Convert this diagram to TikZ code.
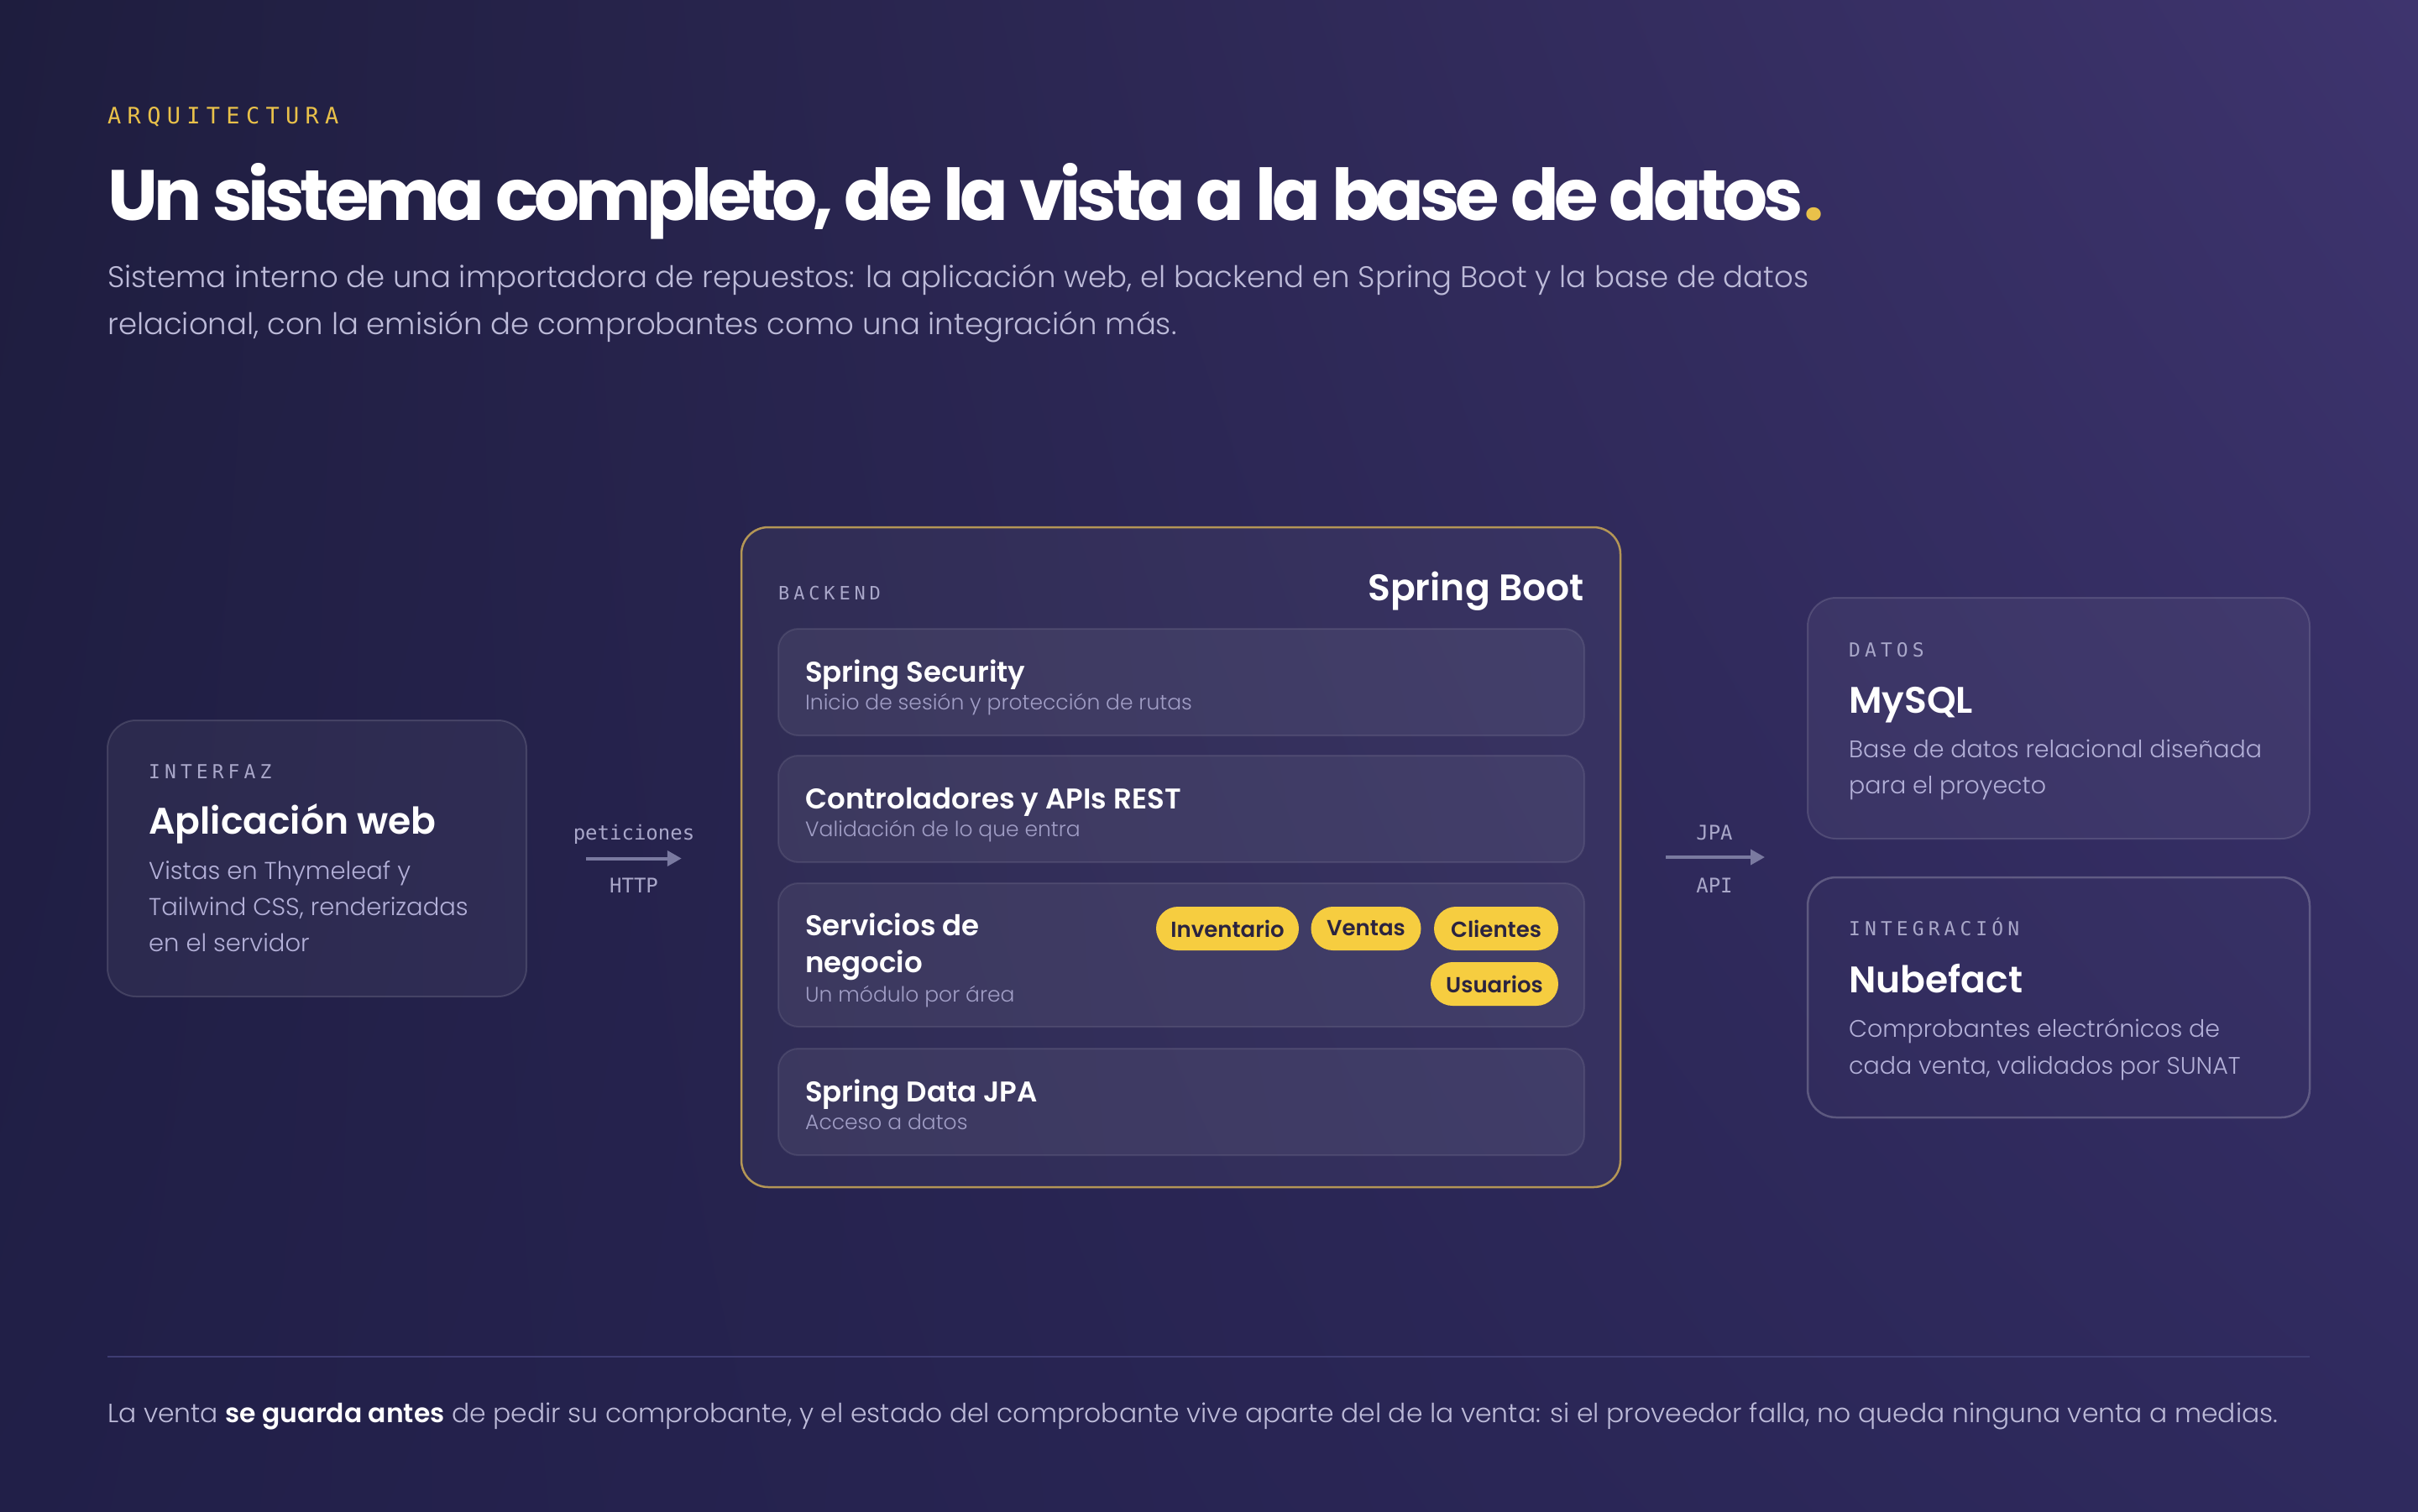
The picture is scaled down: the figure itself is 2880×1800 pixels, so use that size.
\documentclass[tikz,border=0pt]{standalone}
\usepackage{fontspec}
\usetikzlibrary{arrows.meta,shadings}
\setmainfont{Poppins Light}
\newfontfamily\semib{Poppins SemiBold}
\newfontfamily\titlef{Poppins Bold}[LetterSpace=-6]
\newfontfamily\monof{DejaVu Sans Mono}
\newfontfamily\monols{DejaVu Sans Mono}[LetterSpace=22]
\newfontfamily\monokick{DejaVu Sans Mono}[LetterSpace=27]

\definecolor{bgtl}{HTML}{1E1D3E}
\definecolor{bgtr}{HTML}{3E346E}
\definecolor{bgbl}{HTML}{211F48}
\definecolor{bgbr}{HTML}{2F2A5E}
\definecolor{gold}{HTML}{E9C14A}
\definecolor{goldline}{HTML}{B49656}
\definecolor{pillyellow}{HTML}{F6CD40}
\definecolor{pilltext}{HTML}{2B2440}
\definecolor{labelgray}{HTML}{A9A7C9}
\definecolor{descgray}{HTML}{B3B0D8}
\definecolor{subgray}{HTML}{A19EC6}
\definecolor{leadgray}{HTML}{BDBBD9}
\definecolor{arrowgray}{HTML}{7A7AA0}
\definecolor{rulegray}{HTML}{3E3C72}

\tikzset{
  card/.style={draw=white, draw opacity=0.13, fill=white, fill opacity=0.05,
    rounded corners=34pt, line width=2pt, inner sep=0},
  cardline/.style={draw=white, draw opacity=0.22, fill=white, fill opacity=0.015,
    rounded corners=34pt, line width=2.5pt, inner sep=0},
  backendbox/.style={draw=goldline, line width=2.5pt, fill=white, fill opacity=0.045,
    rounded corners=32pt, inner sep=0},
  layer/.style={draw=white, draw opacity=0.09, fill=white, fill opacity=0.06,
    rounded corners=24pt, line width=2pt, inner sep=0,
    minimum width=960pt},
  pill/.style={fill=pillyellow, rounded corners=26pt, minimum height=52pt,
    inner sep=0, text=pilltext, font=\semib\fontsize{26}{26}\selectfont},
  tag/.style={anchor=base west, inner sep=0, text=labelgray,
    font=\monols\fontsize{23}{23}\selectfont},
  head/.style={anchor=base west, inner sep=0, text=white,
    font=\semib\fontsize{44}{44}\selectfont},
  desc/.style={anchor=base west, inner sep=0, text=descgray,
    font=\fontsize{29}{29}\selectfont},
  lhead/.style={anchor=base west, inner sep=0, text=white,
    font=\semib\fontsize{34}{34}\selectfont},
  lsub/.style={anchor=base west, inner sep=0, text=subgray,
    font=\fontsize{25}{25}\selectfont},
  flow/.style={draw=arrowgray, line width=4pt,
    -{Triangle[length=17pt,width=18pt]}},
  flowlabel/.style={anchor=base, inner sep=0, text=labelgray,
    font=\monof\fontsize{24}{24}\selectfont}
}

\begin{document}
\begin{tikzpicture}[x=1pt,y=-1pt]
\useasboundingbox (0,0) rectangle (2880,1800);
\shade[upper left=bgtl, upper right=bgtr, lower left=bgbl, lower right=bgbr]
  (0,0) rectangle (2880,1800);

% heading
\node[anchor=base west, inner sep=0, text=gold, font=\monokick\fontsize{27}{27}\selectfont]
  (kicker) at (128,147) {ARQUITECTURA};
\node[anchor=base west, inner sep=0, text=white, font=\titlef\fontsize{85}{85}\selectfont]
  (title) at (128,262) {Un sistema completo, de la vista a la base de datos\textcolor{gold}{.}};
\node[anchor=base west, inner sep=0, text=leadgray, font=\fontsize{35.5}{35.5}\selectfont]
  (lead1) at (128,342) {Sistema interno de una importadora de repuestos: la aplicación web, el backend en Spring Boot y la base de datos};
\node[anchor=base west, inner sep=0, text=leadgray, font=\fontsize{35.5}{35.5}\selectfont]
  (lead2) at (128,398) {relacional, con la emisión de comprobantes como una integración más.};

% interfaz
\node[card, minimum width=499pt, minimum height=329pt] (web) at (377.5,1022.5) {};
\node[tag] (webtag) at (177,927) {INTERFAZ};
\node[head] (webhead) at (177,993) {Aplicación web};
\node[desc] (webdesc1) at (177,1047) {Vistas en Thymeleaf y};
\node[desc] (webdesc2) at (177,1090) {Tailwind CSS, renderizadas};
\node[desc] (webdesc3) at (177,1133) {en el servidor};

% backend
\node[backendbox, minimum width=1047pt, minimum height=786pt] (backend) at (1406.5,1021) {};
\node[tag, font=\monols\fontsize{22}{22}\selectfont] (backtag) at (927,714) {BACKEND};
\node[anchor=base east, inner sep=0, text=white, font=\semib\fontsize{44}{44}\selectfont]
  (backhead) at (1887,715) {Spring Boot};

\node[layer, minimum height=127pt] (security) at (1407,812.5) {};
\node[lhead] at (959,812) {Spring Security};
\node[lsub] at (959,845) {Inicio de sesión y protección de rutas};

\node[layer, minimum height=127pt] (rest) at (1407,963.5) {};
\node[lhead] at (959,963) {Controladores y APIs REST};
\node[lsub] at (959,996) {Validación de lo que entra};

\node[layer, minimum height=171pt] (services) at (1407,1137.5) {};
\node[lhead] at (959,1114) {Servicios de};
\node[lhead] at (959,1158) {negocio};
\node[lsub] at (959,1193) {Un módulo por área};
\node[pill, minimum width=170pt] (inventario) at (1462,1106) {Inventario};
\node[pill, minimum width=131pt] (ventas) at (1627,1106) {Ventas};
\node[pill, minimum width=148pt] (clientes) at (1782,1106) {Clientes};
\node[pill, minimum width=152pt] (usuarios) at (1780,1172) {Usuarios};

\node[layer, minimum height=127pt] (jpa) at (1407,1312.5) {};
\node[lhead] at (959,1312) {Spring Data JPA};
\node[lsub] at (959,1345) {Acceso a datos};

% datos e integracion
\node[card, minimum width=598pt, minimum height=287pt] (mysql) at (2452,855.5) {};
\node[tag] (mysqltag) at (2202,782) {DATOS};
\node[head] (mysqlhead) at (2202,849) {MySQL};
\node[desc, font=\fontsize{28.5}{28.5}\selectfont] (mysqldesc1) at (2202,902) {Base de datos relacional diseñada};
\node[desc, font=\fontsize{28.5}{28.5}\selectfont] (mysqldesc2) at (2202,945) {para el proyecto};

\node[cardline, minimum width=598pt, minimum height=286pt] (nubefact) at (2452,1188) {};
\node[tag] (nubetag) at (2202,1114) {INTEGRACIÓN};
\node[head] (nubehead) at (2202,1182) {Nubefact};
\node[desc, font=\fontsize{28.5}{28.5}\selectfont] (nubedesc1) at (2202,1235) {Comprobantes electrónicos de};
\node[desc, font=\fontsize{28.5}{28.5}\selectfont] (nubedesc2) at (2202,1279) {cada venta, validados por SUNAT};

% flechas
\coordinate (dataside) at (2153,1022);
\draw[flow, shorten <=70pt, shorten >=70pt] (web.east) -- (web.east -| backend.west);
\node[flowlabel] at (755,1000) {peticiones};
\node[flowlabel] at (755,1063) {HTTP};
\draw[flow, shorten <=53pt, shorten >=51pt] (backend.east) -- (backend.east -| dataside);
\node[flowlabel] at (2042,1000) {JPA};
\node[flowlabel] at (2042,1063) {API};

% pie
\coordinate (ruleL) at (128,1616);
\coordinate (ruleR) at (2751,1616);
\draw[rulegray, line width=2pt] (ruleL) -- (ruleR);
\node[anchor=base west, inner sep=0, text=leadgray, font=\fontsize{31.4}{31.4}\selectfont]
  (footer) at (128,1694) {La venta {\semib\color{white}se guarda antes} de pedir su comprobante, y el estado del comprobante vive aparte del de la venta: si el proveedor falla, no queda ninguna venta a medias.};
\end{tikzpicture}
\end{document}
